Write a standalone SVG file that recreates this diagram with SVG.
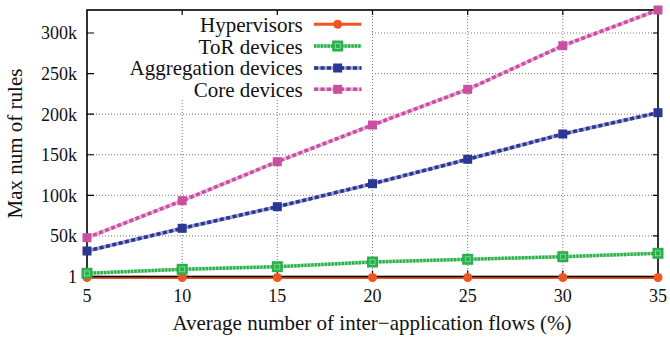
<svg xmlns="http://www.w3.org/2000/svg" width="670" height="338" viewBox="0 0 670 338">
  <style>
    text { font-family: "Liberation Serif", "Times New Roman", serif; fill: #111; }
    .tick { font-size: 18px; }
    .ylab { text-anchor: end; }
    .xlab { text-anchor: middle; }
    .title { font-size: 21px; }
    .key { font-size: 21px; text-anchor: end; }
    .grid { stroke: #777; stroke-width: 1; stroke-dasharray: 1 2; fill: none; }
    .border { stroke: #000; stroke-width: 1.6; fill: none; }
    .tk { stroke: #000; stroke-width: 1.2; }
    .hyp { stroke: #ee5522; stroke-width: 3; fill: none; }
    .tor-halo { stroke: #9adba8; stroke-width: 3.4; fill: none; }
    .tor { stroke: #28b04a; stroke-width: 3.4; stroke-dasharray: 2.2 1.2; fill: none; }
    .agg-halo { stroke: #9aa0d6; stroke-width: 3.6; fill: none; }
    .agg { stroke: #2b3792; stroke-width: 3.6; stroke-dasharray: 4 2.5; fill: none; }
    .core-halo { stroke: #ebb0dc; stroke-width: 3.6; fill: none; }
    .core { stroke: #c9509f; stroke-width: 3.6; stroke-dasharray: 4 2.5; fill: none; }
    .m-hyp { fill: #ee5522; }
    .m-tor { fill: #28b04a; }
    .m-tor-in { fill: none; stroke: #8fe0a3; stroke-width: 0.8; }
    .m-agg { fill: #2b3792; }
    .m-core { fill: #c9509f; }
  </style>
  <defs>
    <circle id="pt-hyp" r="4.5" class="m-hyp"/>
    <g id="pt-tor">
      <rect x="-5.5" y="-5.5" width="11" height="11" class="m-tor"/>
      <rect x="-2.5" y="-2.5" width="5" height="5" class="m-tor-in"/>
    </g>
    <rect id="pt-agg" x="-4.5" y="-4.5" width="9" height="9" class="m-agg"/>
    <rect id="pt-core" x="-4.5" y="-4.5" width="9" height="9" class="m-core"/>
  </defs>

  <rect width="670" height="338" fill="#fff"/>

  <!-- grid -->
  <g id="grid">
    <path class="grid" d="M87 235.9H658 M87 195.3H658 M87 154.75H658 M87 114.2H658 M87 73.6H658 M87 33H658"/>
    <path class="grid" d="M182.2 10V276.5 M277.3 10V276.5 M372.5 10V276.5 M467.7 10V276.5 M562.8 10V276.5"/>
  </g>

  <!-- key background -->
  <rect x="88" y="11" width="283" height="89" fill="#fff"/>

  <!-- tick marks -->
  <g id="ticks">
    <path class="tk" d="M87 235.9h7 M87 195.3h7 M87 154.75h7 M87 114.2h7 M87 73.6h7 M87 33h7"/>
    <path class="tk" d="M658 235.9h-5 M658 195.3h-5 M658 154.75h-5 M658 114.2h-5 M658 73.6h-5 M658 33h-5"/>
    <path class="tk" d="M182.2 276.5v-6 M277.3 276.5v-6 M372.5 276.5v-6 M467.7 276.5v-6 M562.8 276.5v-6"/>
    <path class="tk" d="M182.2 10v5 M277.3 10v5 M372.5 10v5 M467.7 10v5 M562.8 10v5"/>
  </g>

  <!-- axis labels -->
  <g id="y-ticks" class="tick ylab">
    <text x="77" y="282.8">1</text>
    <text x="77" y="242.2">50k</text>
    <text x="77" y="201.6">100k</text>
    <text x="77" y="161">150k</text>
    <text x="77" y="120.5">200k</text>
    <text x="77" y="79.9">250k</text>
    <text x="77" y="39.3">300k</text>
  </g>
  <g id="x-ticks" class="tick xlab">
    <text x="87" y="301.7">5</text>
    <text x="182.2" y="301.7">10</text>
    <text x="277.3" y="301.7">15</text>
    <text x="372.5" y="301.7">20</text>
    <text x="467.7" y="301.7">25</text>
    <text x="562.8" y="301.7">30</text>
    <text x="658" y="301.7">35</text>
  </g>
  <text id="x-title" class="title" x="372" y="329.5" text-anchor="middle">Average number of inter−application flows (%)</text>
  <text id="y-title" class="title" transform="translate(21.7,143.5) rotate(-90)" text-anchor="middle">Max num of rules</text>

  <!-- series lines -->
  <g id="connectors">
    <polyline class="hyp" points="87,277.5 658,277.5"/>
    <polyline class="tor-halo" points="87,273.3 182.2,269.3 277.3,266.7 372.5,262 467.7,259.3 562.8,256.7 658,253.3"/>
    <polyline class="tor" points="87,273.3 182.2,269.3 277.3,266.7 372.5,262 467.7,259.3 562.8,256.7 658,253.3"/>
    <polyline class="agg-halo" points="87,251 182.2,228.3 277.3,206.7 372.5,183.7 467.7,159.3 562.8,134 658,112.7"/>
    <polyline class="agg" points="87,251 182.2,228.3 277.3,206.7 372.5,183.7 467.7,159.3 562.8,134 658,112.7"/>
    <polyline class="core-halo" points="87,237.7 182.2,200.7 277.3,161.7 372.5,125 467.7,89.3 562.8,45.7 658,10"/>
    <polyline class="core" points="87,237.7 182.2,200.7 277.3,161.7 372.5,125 467.7,89.3 562.8,45.7 658,10"/>
  </g>

  <!-- plot frame -->
  <rect id="frame" class="border" x="87" y="10" width="571" height="266.5"/>

  <!-- series points -->
  <g id="hypervisors">
    <use href="#pt-hyp" x="87" y="277.5"/><use href="#pt-hyp" x="182.2" y="277.5"/>
    <use href="#pt-hyp" x="277.3" y="277.5"/><use href="#pt-hyp" x="372.5" y="277.5"/>
    <use href="#pt-hyp" x="467.7" y="277.5"/><use href="#pt-hyp" x="562.8" y="277.5"/>
    <use href="#pt-hyp" x="658" y="277.5"/>
  </g>
  <g id="tor-devices">
    <use href="#pt-tor" x="87" y="273.3"/><use href="#pt-tor" x="182.2" y="269.3"/>
    <use href="#pt-tor" x="277.3" y="266.7"/><use href="#pt-tor" x="372.5" y="262"/>
    <use href="#pt-tor" x="467.7" y="259.3"/><use href="#pt-tor" x="562.8" y="256.7"/>
    <use href="#pt-tor" x="658" y="253.3"/>
  </g>
  <g id="aggregation-devices">
    <use href="#pt-agg" x="87" y="251"/><use href="#pt-agg" x="182.2" y="228.3"/>
    <use href="#pt-agg" x="277.3" y="206.7"/><use href="#pt-agg" x="372.5" y="183.7"/>
    <use href="#pt-agg" x="467.7" y="159.3"/><use href="#pt-agg" x="562.8" y="134"/>
    <use href="#pt-agg" x="658" y="112.7"/>
  </g>
  <g id="core-devices">
    <use href="#pt-core" x="87" y="237.7"/><use href="#pt-core" x="182.2" y="200.7"/>
    <use href="#pt-core" x="277.3" y="161.7"/><use href="#pt-core" x="372.5" y="125"/>
    <use href="#pt-core" x="467.7" y="89.3"/><use href="#pt-core" x="562.8" y="45.7"/>
    <use href="#pt-core" x="658" y="10"/>
  </g>

  <!-- key -->
  <g id="key">
    <text class="key" x="302.7" y="32">Hypervisors</text>
    <line class="hyp" x1="314" y1="24.3" x2="361.5" y2="24.3"/>
    <use href="#pt-hyp" x="337.7" y="24.3"/>

    <text class="key" x="302.7" y="53.7">ToR devices</text>
    <line class="tor-halo" x1="314" y1="46" x2="361.5" y2="46"/>
    <line class="tor" x1="314" y1="46" x2="361.5" y2="46"/>
    <use href="#pt-tor" x="337.7" y="46"/>

    <text class="key" x="302.7" y="75.3">Aggregation devices</text>
    <line class="agg-halo" x1="314" y1="68" x2="361.5" y2="68"/>
    <line class="agg" x1="314" y1="68" x2="361.5" y2="68"/>
    <use href="#pt-agg" x="337.7" y="68"/>

    <text class="key" x="302.7" y="97">Core devices</text>
    <line class="core-halo" x1="314" y1="89.3" x2="361.5" y2="89.3"/>
    <line class="core" x1="314" y1="89.3" x2="361.5" y2="89.3"/>
    <use href="#pt-core" x="337.7" y="89.3"/>
  </g>
</svg>
